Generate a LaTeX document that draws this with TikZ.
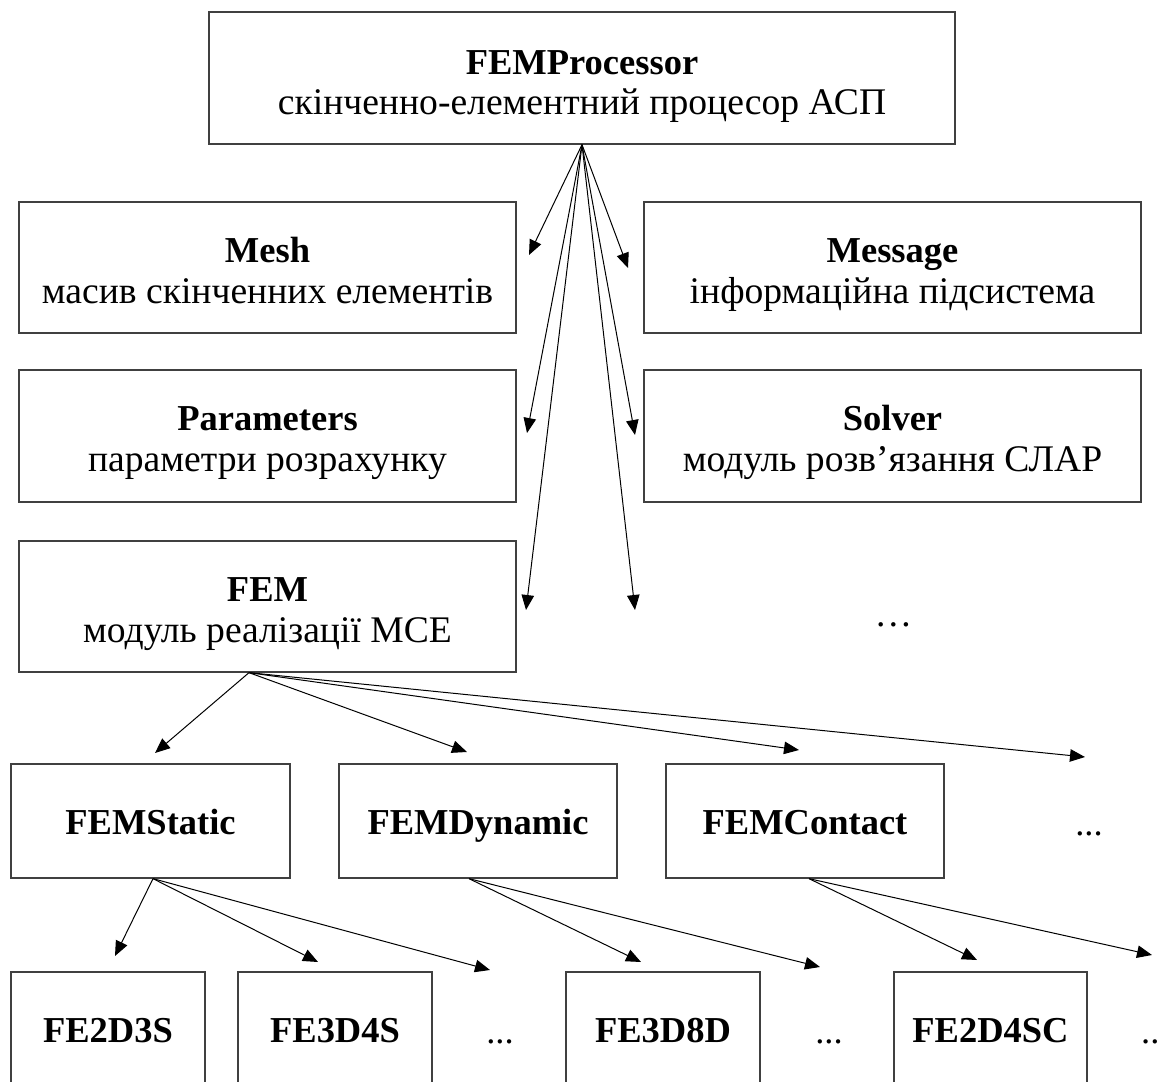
\documentclass[tikz,border=0pt]{standalone}
\usepackage{fontspec}
\setmainfont{Liberation Serif}
\usetikzlibrary{arrows.meta,calc}
\begin{document}
\begin{tikzpicture}[x=1pt,y=-1pt,
  box/.style={draw=black!75, line width=1.3pt, rectangle, inner sep=0pt},
  lbl/.style={anchor=base, inner sep=0pt, font=\fontsize{36.5}{41}\selectfont},
  sub/.style={anchor=base, inner sep=0pt, font=\fontsize{37.6}{42}\selectfont},
  conn/.style={line width=1pt, -{Triangle[length=15pt,width=12.5pt]}}]
\useasboundingbox (0,0) rectangle (1160,1082);
\clip (0,0) rectangle (1160,1082);
% ---- boxes
\node[box, minimum width=746pt, minimum height=132pt] (top) at (582,78) {};
\node[box, minimum width=497pt, minimum height=131pt] (mesh) at (267.5,267.5) {};
\node[box, minimum width=497pt, minimum height=131pt] (msg) at (892.5,267.5) {};
\node[box, minimum width=497pt, minimum height=132pt] (par) at (267.5,436) {};
\node[box, minimum width=497pt, minimum height=132pt] (sol) at (892.5,436) {};
\node[box, minimum width=497pt, minimum height=131pt] (fem) at (267.5,606.5) {};
\node[box, minimum width=279pt, minimum height=114pt] (fst) at (150.5,821) {};
\node[box, minimum width=278pt, minimum height=114pt] (fdy) at (478,821) {};
\node[box, minimum width=278pt, minimum height=114pt] (fco) at (805,821) {};
\node[box, minimum width=194pt, minimum height=114pt] (e1) at (108,1029) {};
\node[box, minimum width=194pt, minimum height=114pt] (e2) at (335,1029) {};
\node[box, minimum width=194pt, minimum height=114pt] (e3) at (663,1029) {};
\node[box, minimum width=193pt, minimum height=114pt] (e4) at (990.5,1029) {};
% ---- texts
\node[lbl] (topA) at ($(top.north)+(0,63)$) {\textbf{FEMProcessor}};
\node[sub] (topB) at ($(top.north)+(0,103)$) {скінченно-елементний процесор АСП};
\node[lbl] (meshA) at ($(mesh.north)+(0,61)$) {\textbf{Mesh}};
\node[sub] (meshB) at ($(mesh.north)+(0,102)$) {масив скінченних елементів};
\node[lbl] (msgA) at ($(msg.north)+(0,61)$) {\textbf{Message}};
\node[sub] (msgB) at ($(msg.north)+(0,102)$) {інформаційна підсистема};
\node[lbl] (parA) at ($(par.north)+(0,61)$) {\textbf{Parameters}};
\node[sub] (parB) at ($(par.north)+(0,102)$) {параметри розрахунку};
\node[lbl] (solA) at ($(sol.north)+(0,61)$) {\textbf{Solver}};
\node[sub] (solB) at ($(sol.north)+(0,102)$) {модуль розв’язання СЛАР};
\node[lbl] (femA) at ($(fem.north)+(0,61)$) {\textbf{FEM}};
\node[sub] (femB) at ($(fem.north)+(0,102)$) {модуль реалізації МСЕ};
\node[sub] (dots0) at (893.5,626) {…};
\node[lbl] (fstT) at ($(fst.north)+(0,71)$) {\textbf{FEMStatic}};
\node[lbl] (fdyT) at ($(fdy.north)+(0,71)$) {\textbf{FEMDynamic}};
\node[lbl] (fcoT) at ($(fco.north)+(0,71)$) {\textbf{FEMContact}};
\node[lbl] (dots1) at (1089,835) {...};
\node[lbl] (e1T) at ($(e1.north)+(0,71)$) {\textbf{FE2D3S}};
\node[lbl] (e2T) at ($(e2.north)+(0,71)$) {\textbf{FE3D4S}};
\node[lbl] (e3T) at ($(e3.north)+(0,71)$) {\textbf{FE3D8D}};
\node[lbl] (e4T) at ($(e4.north)+(0,71)$) {\textbf{FE2D4SC}};
\node[lbl] (dots2) at (500,1043) {...};
\node[lbl] (dots3) at (829,1043) {...};
\node[lbl, anchor=base west] (dots4) at (1141,1043) {...};
% ---- connector ends
\coordinate (tMesh) at (529,255);
\coordinate (tMsg) at (628,268);
\coordinate (tPar) at (527,433);
\coordinate (tSol) at (635,435);
\coordinate (tFem) at (526,610);
\coordinate (tDots) at (635,610);
\coordinate (femS) at ([xshift=-18.5pt]fem.south);
\coordinate (tFst) at (155,753);
\coordinate (tFdy) at (467,752);
\coordinate (tFco) at (799,750);
\coordinate (tFmore) at (1085,757);
\coordinate (fstS) at ([xshift=2.5pt]fst.south);
\coordinate (fdyS) at ([xshift=-9pt]fdy.south);
\coordinate (fcoS) at ([xshift=4pt]fco.south);
\coordinate (tE1) at (115,956);
\coordinate (tE2) at (318,962);
\coordinate (tE2m) at (490,970);
\coordinate (tE3) at (641,962);
\coordinate (tE3m) at (820,967);
\coordinate (tE4) at (977,960);
\coordinate (tE4m) at (1152,955);
% ---- connectors
\foreach \t in {tMesh,tMsg,tPar,tSol,tFem,tDots} \draw[conn] (top.south) -- (\t);
\foreach \t in {tFst,tFdy,tFco,tFmore} \draw[conn] (femS) -- (\t);
\foreach \t in {tE1,tE2,tE2m} \draw[conn] (fstS) -- (\t);
\foreach \t in {tE3,tE3m} \draw[conn] (fdyS) -- (\t);
\foreach \t in {tE4,tE4m} \draw[conn] (fcoS) -- (\t);
\end{tikzpicture}
\end{document}
